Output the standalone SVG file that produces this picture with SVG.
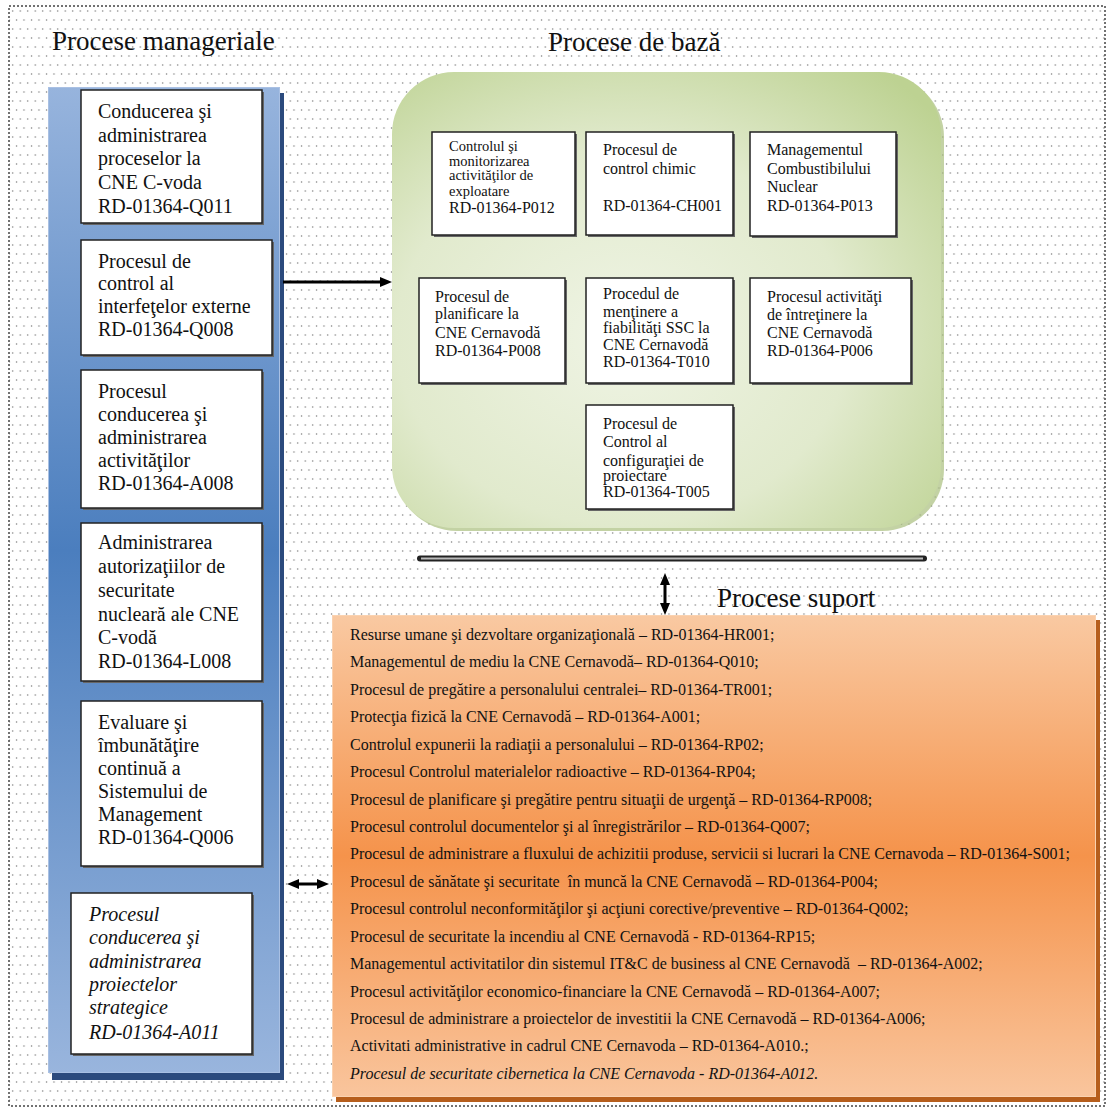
<svg xmlns="http://www.w3.org/2000/svg" width="1109" height="1109" viewBox="0 0 1109 1109">
<defs>
<style>
.t{font-family:"Liberation Serif","Times New Roman",serif;fill:#111}
.title{font-size:27px}
.lt{font-size:20px}
.gt{font-size:16px}
.gs{font-size:14.5px}
.ot{font-size:16px}
.it{font-style:italic}
.box{fill:#fff;stroke:#222;stroke-width:1.5}
.shd{fill:#666}
.conn{stroke:#000;stroke-width:3;fill:none}
</style>
<pattern id="dots" width="7.5" height="18" patternUnits="userSpaceOnUse">
<circle cx="1.5" cy="2" r="0.75" fill="#777"/>
<circle cx="5.25" cy="11" r="0.75" fill="#777"/>
</pattern>
<linearGradient id="blueG" x1="0" y1="0" x2="0" y2="1">
<stop offset="0" stop-color="#97b4dd"/>
<stop offset="0.47" stop-color="#4b7ebe"/>
<stop offset="1" stop-color="#99b5dd"/>
</linearGradient>
<radialGradient id="greenG" cx="0.42" cy="0.58" r="0.75">
<stop offset="0" stop-color="#eff4e4"/>
<stop offset="0.55" stop-color="#e1eacd"/>
<stop offset="1" stop-color="#bdd292"/>
</radialGradient>
<linearGradient id="orangeG" x1="0" y1="0" x2="0" y2="1">
<stop offset="0" stop-color="#f9c9a2"/>
<stop offset="0.5" stop-color="#f5934b"/>
<stop offset="1" stop-color="#f9c59d"/>
</linearGradient>
<marker id="ah" viewBox="0 0 12 10" refX="4" refY="5" markerWidth="12" markerHeight="10" markerUnits="userSpaceOnUse" orient="auto-start-reverse">
<path d="M0,0 L12,5 L0,10 z" fill="#000"/>
</marker>
</defs>

<rect x="0" y="0" width="1109" height="1109" fill="#fff"/>
<rect x="9" y="6" width="1096" height="1100" fill="url(#dots)" stroke="#444" stroke-width="1.5" stroke-dasharray="2,2"/>

<g id="titles">
<text class="t title" x="52" y="50">Procese manageriale</text>
<text class="t title" x="548" y="51">Procese de bază</text>
<text class="t title" x="717" y="607">Procese suport</text>
</g>

<g id="manageriale-panel">
<rect x="52" y="93" width="232" height="987" fill="#2b4a7d"/>
<rect x="48" y="87" width="232" height="986" fill="url(#blueG)"/>
<rect x="48.5" y="87.5" width="231" height="985" fill="none" stroke="#a9c0e3" stroke-width="1"/>
</g>

<g id="m1">
<rect class="shd" x="83" y="92" width="181" height="133"/>
<rect class="box" x="81" y="90" width="181" height="133"/>
<text class="t lt"><tspan x="98" y="118">Conducerea şi</tspan><tspan x="98" y="142">administrarea</tspan><tspan x="98" y="165">proceselor la</tspan><tspan x="98" y="189">CNE C-voda</tspan><tspan x="98" y="213">RD-01364-Q011</tspan></text>
</g>
<g id="m2">
<rect class="shd" x="83" y="242" width="191" height="115"/>
<rect class="box" x="81" y="240" width="191" height="115"/>
<text class="t lt"><tspan x="98" y="268">Procesul de</tspan><tspan x="98" y="290">control al</tspan><tspan x="98" y="313">interfeţelor externe</tspan><tspan x="98" y="336">RD-01364-Q008</tspan></text>
</g>
<g id="m3">
<rect class="shd" x="83" y="372" width="181" height="138"/>
<rect class="box" x="81" y="370" width="181" height="138"/>
<text class="t lt"><tspan x="98" y="398">Procesul</tspan><tspan x="98" y="421">conducerea şi</tspan><tspan x="98" y="444">administrarea</tspan><tspan x="98" y="467">activităţilor</tspan><tspan x="98" y="490">RD-01364-A008</tspan></text>
</g>
<g id="m4">
<rect class="shd" x="83" y="525" width="181" height="158"/>
<rect class="box" x="81" y="523" width="181" height="158"/>
<text class="t lt"><tspan x="98" y="549">Administrarea</tspan><tspan x="98" y="573">autorizaţiilor de</tspan><tspan x="98" y="597">securitate</tspan><tspan x="98" y="621">nucleară ale CNE</tspan><tspan x="98" y="644">C-vodă</tspan><tspan x="98" y="668">RD-01364-L008</tspan></text>
</g>
<g id="m5">
<rect class="shd" x="83" y="703" width="181" height="165"/>
<rect class="box" x="81" y="701" width="181" height="165"/>
<text class="t lt"><tspan x="98" y="729">Evaluare şi</tspan><tspan x="98" y="752">îmbunătăţire</tspan><tspan x="98" y="775">continuă a</tspan><tspan x="98" y="798">Sistemului de</tspan><tspan x="98" y="821">Management</tspan><tspan x="98" y="844">RD-01364-Q006</tspan></text>
</g>
<g id="m6">
<rect class="shd" x="73" y="895" width="181" height="161"/>
<rect class="box" x="71" y="893" width="181" height="161"/>
<text class="t lt it"><tspan x="89" y="921">Procesul</tspan><tspan x="89" y="944">conducerea şi</tspan><tspan x="89" y="968">administrarea</tspan><tspan x="89" y="991">proiectelor</tspan><tspan x="89" y="1014">strategice</tspan><tspan x="89" y="1039">RD-01364-A011</tspan></text>
</g>

<g id="baza-panel">
<rect x="395" y="75" width="549" height="456" rx="62" ry="62" fill="#a9bf7e" opacity="0.7"/>
<rect x="392" y="72" width="549" height="456" rx="62" ry="62" fill="url(#greenG)"/>
</g>

<g id="b1">
<rect class="shd" x="434" y="134" width="143" height="103"/>
<rect class="box" x="432" y="132" width="143" height="103"/>
<text class="t gs"><tspan x="449" y="151">Controlul şi</tspan><tspan x="449" y="165.5">monitorizarea</tspan><tspan x="449" y="180">activităţilor de</tspan><tspan x="449" y="195.5">exploatare</tspan></text>
<text class="t gt" x="449" y="213">RD-01364-P012</text>
</g>
<g id="b2">
<rect class="shd" x="588" y="134" width="147" height="103"/>
<rect class="box" x="586" y="132" width="147" height="103"/>
<text class="t gt"><tspan x="603" y="155">Procesul de</tspan><tspan x="603" y="174">control chimic</tspan><tspan x="603" y="211">RD-01364-CH001</tspan></text>
</g>
<g id="b3">
<rect class="shd" x="752" y="134" width="146" height="104"/>
<rect class="box" x="750" y="132" width="146" height="104"/>
<text class="t gt"><tspan x="767" y="155">Managementul</tspan><tspan x="767" y="174">Combustibilului</tspan><tspan x="767" y="192">Nuclear</tspan><tspan x="767" y="211">RD-01364-P013</tspan></text>
</g>
<g id="b4">
<rect class="shd" x="421" y="280" width="146" height="105"/>
<rect class="box" x="419" y="278" width="146" height="105"/>
<text class="t gt"><tspan x="435" y="302">Procesul de</tspan><tspan x="435" y="319">planificare la</tspan><tspan x="435" y="338">CNE Cernavodă</tspan><tspan x="435" y="356">RD-01364-P008</tspan></text>
</g>
<g id="b5">
<rect class="shd" x="588" y="280" width="147" height="105"/>
<rect class="box" x="586" y="278" width="147" height="105"/>
<text class="t gt"><tspan x="603" y="299">Procedul de</tspan><tspan x="603" y="317">menţinere a</tspan><tspan x="603" y="333">fiabilităţi SSC la</tspan><tspan x="603" y="350">CNE Cernavodă</tspan><tspan x="603" y="367">RD-01364-T010</tspan></text>
</g>
<g id="b6">
<rect class="shd" x="752" y="280" width="161" height="105"/>
<rect class="box" x="750" y="278" width="161" height="105"/>
<text class="t gt"><tspan x="767" y="302">Procesul activităţi</tspan><tspan x="767" y="320">de întreţinere la</tspan><tspan x="767" y="338">CNE Cernavodă</tspan><tspan x="767" y="356">RD-01364-P006</tspan></text>
</g>
<g id="b7">
<rect class="shd" x="588" y="407" width="147" height="104"/>
<rect class="box" x="586" y="405" width="147" height="104"/>
<text class="t gt"><tspan x="603" y="429">Procesul de</tspan><tspan x="603" y="447">Control al</tspan><tspan x="603" y="466">configuraţiei de</tspan><tspan x="603" y="481">proiectare</tspan><tspan x="603" y="497">RD-01364-T005</tspan></text>
</g>

<g id="separator">
<line x1="420" y1="558.5" x2="924" y2="558.5" stroke="#222" stroke-width="6" stroke-linecap="round"/>
<line x1="421" y1="558.5" x2="923" y2="558.5" stroke="#bbb" stroke-width="2"/>
</g>

<g id="suport-panel">
<rect x="336" y="620" width="764" height="482" fill="#b65e1c"/>
<rect x="332" y="615" width="764" height="482" fill="url(#orangeG)"/>
<rect x="332.5" y="615.5" width="763" height="481" fill="none" stroke="#fad2b0" stroke-width="1"/>
<text class="t ot" xml:space="preserve"><tspan x="350" y="640">Resurse umane şi dezvoltare organizaţională – RD-01364-HR001;</tspan><tspan x="350" y="667.4">Managementul de mediu la CNE Cernavodă– RD-01364-Q010;</tspan><tspan x="350" y="694.9">Procesul de pregătire a personalului centralei– RD-01364-TR001;</tspan><tspan x="350" y="722.3">Protecţia fizică la CNE Cernavodă – RD-01364-A001;</tspan><tspan x="350" y="749.7">Controlul expunerii la radiaţii a personalului – RD-01364-RP02;</tspan><tspan x="350" y="777.2">Procesul Controlul materialelor radioactive – RD-01364-RP04;</tspan><tspan x="350" y="804.6">Procesul de planificare şi pregătire pentru situaţii de urgenţă – RD-01364-RP008;</tspan><tspan x="350" y="832">Procesul controlul documentelor şi al înregistrărilor – RD-01364-Q007;</tspan><tspan x="350" y="859.4">Procesul de administrare a fluxului de achizitii produse, servicii si lucrari la CNE Cernavoda – RD-01364-S001;</tspan><tspan x="350" y="886.9">Procesul de sănătate şi securitate  în muncă la CNE Cernavodă – RD-01364-P004;</tspan><tspan x="350" y="914.3">Procesul controlul neconformităţilor şi acţiuni corective/preventive – RD-01364-Q002;</tspan><tspan x="350" y="941.7">Procesul de securitate la incendiu al CNE Cernavodă - RD-01364-RP15;</tspan><tspan x="350" y="969.2">Managementul activitatilor din sistemul IT&amp;C de business al CNE Cernavodă  – RD-01364-A002;</tspan><tspan x="350" y="996.6">Procesul activităţilor economico-financiare la CNE Cernavodă – RD-01364-A007;</tspan><tspan x="350" y="1024">Procesul de administrare a proiectelor de investitii la CNE Cernavodă – RD-01364-A006;</tspan><tspan x="350" y="1051.4">Activitati administrative in cadrul CNE Cernavoda – RD-01364-A010.;</tspan><tspan x="350" y="1078.9" font-style="italic">Procesul de securitate cibernetica la CNE Cernavoda - RD-01364-A012.</tspan></text>
</g>

<g id="connectors">
<line class="conn" x1="283" y1="282" x2="384" y2="282" marker-end="url(#ah)"/>
<line class="conn" x1="295" y1="884" x2="321" y2="884" marker-start="url(#ah)" marker-end="url(#ah)"/>
<line class="conn" x1="665" y1="581" x2="665" y2="607" marker-start="url(#ah)" marker-end="url(#ah)"/>
</g>
</svg>
